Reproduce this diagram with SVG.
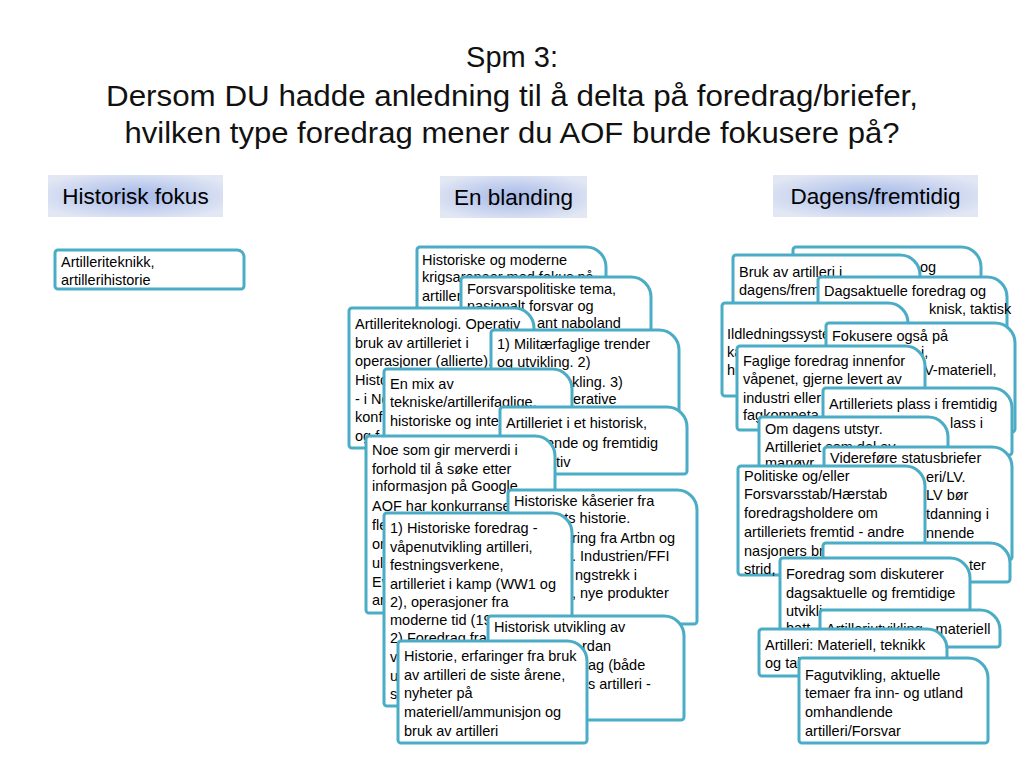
<svg xmlns="http://www.w3.org/2000/svg" width="1024" height="768" viewBox="0 0 1024 768">
<defs>
<radialGradient id="hg" cx="0.5" cy="0.5" r="0.6">
<stop offset="0" stop-color="#a3b7e7"/>
<stop offset="1" stop-color="#e2e7f4"/>
</radialGradient>
</defs>
<style>
.c{fill:#fff;stroke:#4bacc6;stroke-width:3}
.t{font-family:"Liberation Sans",Arial,sans-serif;font-size:14.5px;fill:#000}
.h{font-family:"Liberation Sans",Arial,sans-serif;font-size:22.5px;fill:#000;text-anchor:middle}
.ti{font-family:"Liberation Sans",Arial,sans-serif;font-size:29px;fill:#111;text-anchor:middle}
</style>
<rect width="1024" height="768" fill="#fff"/>
<g id="title">
<text class="ti" x="512" y="67">Spm 3:</text>
<text class="ti" x="512" y="106" textLength="812" lengthAdjust="spacingAndGlyphs">Dersom DU hadde anledning til å delta på foredrag/briefer,</text>
<text class="ti" x="512" y="143" textLength="775" lengthAdjust="spacingAndGlyphs">hvilken type foredrag mener du AOF burde fokusere på?</text>
</g>
<g id="hdr-historisk"><rect x="48" y="175" width="175" height="42" fill="url(#hg)"/><text class="h" x="135.5" y="204">Historisk fokus</text></g>
<g id="hdr-blanding"><rect x="440" y="176" width="147" height="42" fill="url(#hg)"/><text class="h" x="513.5" y="205">En blanding</text></g>
<g id="hdr-dagens"><rect x="773" y="175" width="205" height="42" fill="url(#hg)"/><text class="h" x="875.5" y="204">Dagens/fremtidig</text></g>

<g id="L1"><path class="c" d="M58,250 H237 A7 7 0 0 1 244,257 V286 A3 3 0 0 1 241,289 H58 A3 3 0 0 1 55,286 V253 A3 3 0 0 1 58,250Z"/>
<text class="t" x="61" y="267">Artilleriteknikk,</text><text class="t" x="61" y="285">artillerihistorie</text></g>

<g id="M-A"><path class="c" d="M420,247 H586 A20 20 0 0 1 606,267 V327 A3 3 0 0 1 603,330 H420 A3 3 0 0 1 417,327 V250 A3 3 0 0 1 420,247Z"/>
<text class="t" x="422" y="265">Historiske og moderne</text><text class="t" x="422" y="282">krigsarenaer med fokus på</text><text class="t" x="422" y="301">artiller</text></g>
<g id="M-B"><path class="c" d="M464,277 H631 A20 20 0 0 1 651,297 V342 A3 3 0 0 1 648,345 H464 A3 3 0 0 1 461,342 V280 A3 3 0 0 1 464,277Z"/>
<text class="t" x="467" y="294">Forsvarspolitiske tema,</text><text class="t" x="467" y="311">nasjonalt forsvar og</text><text class="t" x="537" y="328">ant naboland</text></g>
<g id="M-C"><path class="c" d="M352,308 H514 A20 20 0 0 1 534,328 V445 A3 3 0 0 1 531,448 H352 A3 3 0 0 1 349,445 V311 A3 3 0 0 1 352,308Z"/>
<text class="t" x="355" y="329">Artilleriteknologi. Operativ</text><text class="t" x="355" y="348">bruk av artilleriet i</text><text class="t" x="355" y="366">operasjoner (allierte).</text><text class="t" x="355" y="385">Histo</text><text class="t" x="355" y="404">- i No</text><text class="t" x="355" y="422">konf</text><text class="t" x="355" y="441">og f</text></g>
<g id="M-D"><path class="c" d="M494,330 H659 A20 20 0 0 1 679,350 V417 A3 3 0 0 1 676,420 H494 A3 3 0 0 1 491,417 V333 A3 3 0 0 1 494,330Z"/>
<text class="t" x="497" y="349">1) Militærfaglige trender</text><text class="t" x="497" y="367">og utvikling. 2)</text><text class="t" x="572" y="387">kling. 3)</text><text class="t" x="573" y="404">erative</text></g>
<g id="M-E"><path class="c" d="M387,369 H552 A20 20 0 0 1 572,389 V442 A3 3 0 0 1 569,445 H387 A3 3 0 0 1 384,442 V372 A3 3 0 0 1 387,369Z"/>
<text class="t" x="390" y="389">En mix av</text><text class="t" x="390" y="407">tekniske/artillerifaglige,</text><text class="t" x="390" y="426">historiske og inter</text></g>
<g id="M-F"><path class="c" d="M503,407 H667 A20 20 0 0 1 687,427 V471 A3 3 0 0 1 684,474 H503 A3 3 0 0 1 500,471 V410 A3 3 0 0 1 503,407Z"/>
<text class="t" x="506" y="428">Artilleriet i et historisk,</text><text class="t" x="546" y="448">ende og fremtidig</text><text class="t" x="556" y="467">tiv</text></g>
<g id="M-G"><path class="c" d="M369,436 H535 A20 20 0 0 1 555,456 V610 A3 3 0 0 1 552,613 H369 A3 3 0 0 1 366,610 V439 A3 3 0 0 1 369,436Z"/>
<text class="t" x="372" y="455">Noe som gir merverdi i</text><text class="t" x="372" y="474">forhold til å søke etter</text><text class="t" x="372" y="491">informasjon på Google.</text><text class="t" x="372" y="511">AOF har konkurranse</text><text class="t" x="372" y="530">fle</text><text class="t" x="372" y="549">or</text><text class="t" x="372" y="568">ul</text><text class="t" x="372" y="587">Ev</text><text class="t" x="372" y="605">ar</text></g>
<g id="M-H"><path class="c" d="M511,490 H677 A20 20 0 0 1 697,510 V621 A3 3 0 0 1 694,624 H511 A3 3 0 0 1 508,621 V493 A3 3 0 0 1 511,490Z"/>
<text class="t" x="514" y="506">Historiske kåserier fra</text><text class="t" x="553" y="523">iets historie.</text><text class="t" x="572" y="543">ring fra Artbn og</text><text class="t" x="572" y="561">. Industrien/FFI</text><text class="t" x="575" y="580">ngstrekk i</text><text class="t" x="572" y="598">, nye produkter</text></g>
<g id="M-I"><path class="c" d="M387,513 H552 A20 20 0 0 1 572,533 V703 A3 3 0 0 1 569,706 H387 A3 3 0 0 1 384,703 V516 A3 3 0 0 1 387,513Z"/>
<text class="t" x="390" y="533">1) Historiske foredrag -</text><text class="t" x="390" y="552">våpenutvikling artilleri,</text><text class="t" x="390" y="570">festningsverkene,</text><text class="t" x="390" y="589">artilleriet i kamp (WW1 og</text><text class="t" x="390" y="607">2), operasjoner fra</text><text class="t" x="390" y="625">moderne tid (19</text><text class="t" x="390" y="643">2) Foredrag fra</text><text class="t" x="390" y="662">va</text><text class="t" x="390" y="681">u</text><text class="t" x="390" y="699">sy</text></g>
<g id="M-J"><path class="c" d="M491,616 H664 A20 20 0 0 1 684,636 V717 A3 3 0 0 1 681,720 H491 A3 3 0 0 1 488,717 V619 A3 3 0 0 1 491,616Z"/>
<text class="t" x="494" y="632">Historisk utvikling av</text><text class="t" x="582" y="651">rdan</text><text class="t" x="588" y="670">ag (både</text><text class="t" x="588" y="689">s artilleri -</text></g>
<g id="M-K"><path class="c" d="M401,641 H567 A20 20 0 0 1 587,661 V740 A3 3 0 0 1 584,743 H401 A3 3 0 0 1 398,740 V644 A3 3 0 0 1 401,641Z"/>
<text class="t" x="404" y="661">Historie, erfaringer fra bruk</text><text class="t" x="404" y="680">av artilleri de siste årene,</text><text class="t" x="404" y="698">nyheter på</text><text class="t" x="404" y="717">materiell/ammunisjon og</text><text class="t" x="404" y="736">bruk av artilleri</text></g>

<g id="R1"><path class="c" d="M796,247 H961 A20 20 0 0 1 981,267 V287 A3 3 0 0 1 978,290 H796 A3 3 0 0 1 793,287 V250 A3 3 0 0 1 796,247Z"/>
<text class="t" x="920" y="272">og</text></g>
<g id="R2"><path class="c" d="M736,255 H900 A20 20 0 0 1 920,275 V309 A3 3 0 0 1 917,312 H736 A3 3 0 0 1 733,309 V258 A3 3 0 0 1 736,255Z"/>
<text class="t" x="739" y="277">Bruk av artilleri i</text><text class="t" x="739" y="295">dagens/frem</text></g>
<g id="R3"><path class="c" d="M821,277 H987 A20 20 0 0 1 1007,297 V332 A3 3 0 0 1 1004,335 H821 A3 3 0 0 1 818,332 V280 A3 3 0 0 1 821,277Z"/>
<text class="t" x="824" y="296">Dagsaktuelle foredrag og</text><text class="t" x="929" y="314">knisk, taktisk</text></g>
<g id="R4"><path class="c" d="M725,303 H888 A20 20 0 0 1 908,323 V393 A3 3 0 0 1 905,396 H725 A3 3 0 0 1 722,393 V306 A3 3 0 0 1 725,303Z"/>
<text class="t" x="727" y="339">Ildledningssyste</text><text class="t" x="727" y="357">ka</text><text class="t" x="727" y="375">hi</text></g>
<g id="R5"><path class="c" d="M829,323 H995 A20 20 0 0 1 1015,343 V429 A3 3 0 0 1 1012,432 H829 A3 3 0 0 1 826,429 V326 A3 3 0 0 1 829,323Z"/>
<text class="t" x="832" y="341">Fokusere også på</text><text class="t" x="921" y="357">i,</text><text class="t" x="924" y="375">V-materiell,</text></g>
<g id="R6"><path class="c" d="M740,346 H905 A20 20 0 0 1 925,366 V427 A3 3 0 0 1 922,430 H740 A3 3 0 0 1 737,427 V349 A3 3 0 0 1 740,346Z"/>
<text class="t" x="743" y="366">Faglige foredrag innenfor</text><text class="t" x="743" y="384">våpenet, gjerne levert av</text><text class="t" x="743" y="403">industri eller</text><text class="t" x="743" y="420">fagkompeta</text></g>
<g id="R7"><path class="c" d="M826,388 H992 A20 20 0 0 1 1012,408 V452 A3 3 0 0 1 1009,455 H826 A3 3 0 0 1 823,452 V391 A3 3 0 0 1 826,388Z"/>
<text class="t" x="829" y="409">Artilleriets plass i fremtidig</text><text class="t" x="950" y="428">lass i</text></g>
<g id="R8"><path class="c" d="M762,417 H928 A20 20 0 0 1 948,437 V472 A3 3 0 0 1 945,475 H762 A3 3 0 0 1 759,472 V420 A3 3 0 0 1 762,417Z"/>
<text class="t" x="765" y="434">Om dagens utstyr.</text><text class="t" x="765" y="452">Artilleriet som del av</text><text class="t" x="765" y="468">manøvr</text></g>
<g id="R9"><path class="c" d="M827,447 H992 A20 20 0 0 1 1012,467 V557 A3 3 0 0 1 1009,560 H827 A3 3 0 0 1 824,557 V450 A3 3 0 0 1 827,447Z"/>
<text class="t" x="830" y="463">Videreføre statusbriefer</text><text class="t" x="926" y="482">eri/LV.</text><text class="t" x="926" y="500">LV bør</text><text class="t" x="926" y="519">tdanning i</text><text class="t" x="926" y="538">nnende</text></g>
<g id="R10"><path class="c" d="M741,466 H905 A20 20 0 0 1 925,486 V572 A3 3 0 0 1 922,575 H741 A3 3 0 0 1 738,572 V469 A3 3 0 0 1 741,466Z"/>
<text class="t" x="744" y="481">Politiske og/eller</text><text class="t" x="744" y="499">Forsvarsstab/Hærstab</text><text class="t" x="744" y="518">foredragsholdere om</text><text class="t" x="744" y="537">artilleriets fremtid - andre</text><text class="t" x="744" y="556">nasjoners br</text><text class="t" x="744" y="574">strid,</text></g>
<g id="R11"><path class="c" d="M826,543 H990 A20 20 0 0 1 1010,563 V579 A3 3 0 0 1 1007,582 H826 A3 3 0 0 1 823,579 V546 A3 3 0 0 1 826,543Z"/>
<text class="t" x="969" y="570">ter</text></g>
<g id="R12"><path class="c" d="M783,558 H950 A20 20 0 0 1 970,578 V637 A3 3 0 0 1 967,640 H783 A3 3 0 0 1 780,637 V561 A3 3 0 0 1 783,558Z"/>
<text class="t" x="786" y="579">Foredrag som diskuterer</text><text class="t" x="786" y="598">dagsaktuelle og fremtidige</text><text class="t" x="786" y="616">utvikli</text><text class="t" x="786" y="633">batt</text></g>
<g id="R13"><path class="c" d="M823,610 H980 A20 20 0 0 1 1000,630 V644 A3 3 0 0 1 997,647 H823 A3 3 0 0 1 820,644 V613 A3 3 0 0 1 823,610Z"/>
<text class="t" x="826" y="634">Artilleriutvikling - materiell</text></g>
<g id="R14"><path class="c" d="M762,629 H927 A20 20 0 0 1 947,649 V673 A3 3 0 0 1 944,676 H762 A3 3 0 0 1 759,673 V632 A3 3 0 0 1 762,629Z"/>
<text class="t" x="765" y="650">Artilleri: Materiell, teknikk</text><text class="t" x="765" y="668">og tak</text></g>
<g id="R15"><path class="c" d="M802,658 H968 A20 20 0 0 1 988,678 V740 A3 3 0 0 1 985,743 H802 A3 3 0 0 1 799,740 V661 A3 3 0 0 1 802,658Z"/>
<text class="t" x="805" y="680">Fagutvikling, aktuelle</text><text class="t" x="805" y="698">temaer fra inn- og utland</text><text class="t" x="805" y="717">omhandlende</text><text class="t" x="805" y="736">artilleri/Forsvar</text></g>
</svg>
